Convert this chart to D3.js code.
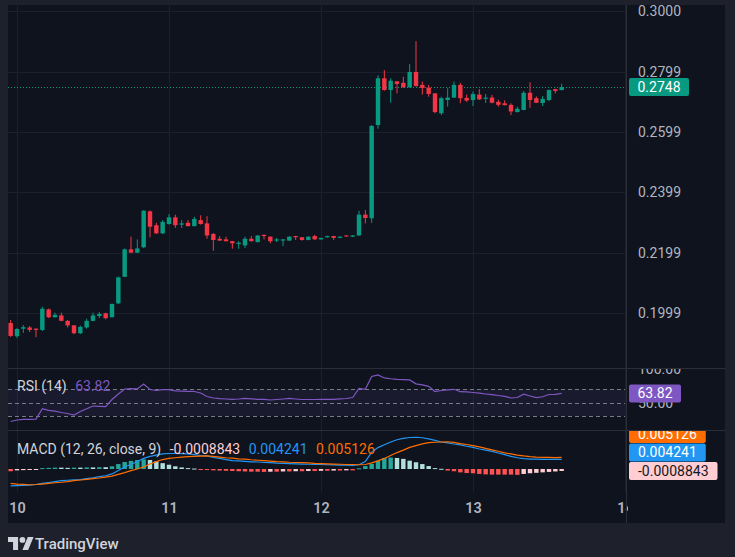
<!DOCTYPE html>
<html>
<head>
<meta charset="utf-8">
<script src="https://cdn.jsdelivr.net/npm/d3@7"></script>
<style>
  html, body { margin: 0; padding: 0; background: #1e212b; }
  svg { display: block; }
  text { font-family: Roboto, "Noto Sans", sans-serif; }
</style>
</head>
<body>
<svg id="chart" width="735" height="557"></svg>
<script>
'use strict';

// hourly candles, the first one is 23:00 of the day before the "10" tick
const firstHour = -1;

const opens = [
    0.1966, 0.1922, 0.1947, 0.1951, 0.1947, 0.1943, 0.2011, 0.1985, 0.1991, 0.1973,
    0.1958, 0.1932, 0.1951, 0.1973, 0.1989, 0.1998, 0.1985, 0.2031, 0.2119, 0.2210,
    0.2199, 0.2217, 0.2336, 0.2290, 0.2263, 0.2294, 0.2316, 0.2292, 0.2298, 0.2287,
    0.2307, 0.2296, 0.2261, 0.2245, 0.2243, 0.2237, 0.2228, 0.2223, 0.2245, 0.2234,
    0.2258, 0.2252, 0.2239, 0.2239, 0.2239, 0.2254, 0.2250, 0.2241, 0.2254, 0.2243,
    0.2250, 0.2254, 0.2248, 0.2256, 0.2252, 0.2256, 0.2325, 0.2313, 0.2622, 0.2777,
    0.2738, 0.2767, 0.2762, 0.2747, 0.2798, 0.2755, 0.2746, 0.2727, 0.2661, 0.2705,
    0.2713, 0.2755, 0.2712, 0.2705, 0.2723, 0.2709, 0.2713, 0.2699, 0.2694, 0.2689,
    0.2665, 0.2672, 0.2729, 0.2711, 0.2695, 0.2705, 0.2741, 0.2738
];
const highs = [
    0.1976, 0.1949, 0.1959, 0.1956, 0.1948, 0.2020, 0.2014, 0.2000, 0.2000, 0.1976,
    0.1959, 0.1957, 0.1980, 0.2000, 0.2002, 0.2000, 0.2030, 0.2120, 0.2213, 0.2252,
    0.2243, 0.2340, 0.2339, 0.2298, 0.2307, 0.2327, 0.2325, 0.2307, 0.2307, 0.2318,
    0.2323, 0.2320, 0.2264, 0.2254, 0.2252, 0.2238, 0.2237, 0.2252, 0.2254, 0.2257,
    0.2259, 0.2253, 0.2248, 0.2244, 0.2253, 0.2255, 0.2251, 0.2253, 0.2258, 0.2248,
    0.2255, 0.2255, 0.2253, 0.2257, 0.2257, 0.2338, 0.2340, 0.2622, 0.2787, 0.2804,
    0.2777, 0.2768, 0.2782, 0.2824, 0.2900, 0.2766, 0.2755, 0.2728, 0.2716, 0.2744,
    0.2766, 0.2762, 0.2723, 0.2733, 0.2741, 0.2725, 0.2722, 0.2706, 0.2704, 0.2694,
    0.2683, 0.2735, 0.2764, 0.2717, 0.2718, 0.2740, 0.2742, 0.2759
];
const lows = [
    0.1919, 0.1916, 0.1933, 0.1936, 0.1919, 0.1939, 0.1982, 0.1984, 0.1972, 0.1951,
    0.1929, 0.1929, 0.1947, 0.1972, 0.1982, 0.1978, 0.1984, 0.2029, 0.2118, 0.2198,
    0.2198, 0.2214, 0.2250, 0.2261, 0.2261, 0.2292, 0.2281, 0.2281, 0.2286, 0.2286,
    0.2292, 0.2245, 0.2205, 0.2238, 0.2236, 0.2212, 0.2212, 0.2214, 0.2236, 0.2233,
    0.2243, 0.2230, 0.2234, 0.2221, 0.2238, 0.2241, 0.2239, 0.2240, 0.2242, 0.2242,
    0.2249, 0.2241, 0.2247, 0.2252, 0.2251, 0.2255, 0.2296, 0.2298, 0.2610, 0.2736,
    0.2696, 0.2727, 0.2746, 0.2746, 0.2750, 0.2723, 0.2716, 0.2661, 0.2655, 0.2683,
    0.2712, 0.2694, 0.2699, 0.2685, 0.2705, 0.2695, 0.2694, 0.2683, 0.2687, 0.2655,
    0.2664, 0.2671, 0.2679, 0.2695, 0.2685, 0.2701, 0.2727, 0.2737
];
const closes = [
    0.1923, 0.1946, 0.1952, 0.1943, 0.1943, 0.2013, 0.1985, 0.1993, 0.1973, 0.1958,
    0.1932, 0.1953, 0.1973, 0.1991, 0.1996, 0.1982, 0.2029, 0.2117, 0.2210, 0.2199,
    0.2213, 0.2338, 0.2285, 0.2263, 0.2301, 0.2316, 0.2290, 0.2296, 0.2287, 0.2311,
    0.2294, 0.2256, 0.2241, 0.2239, 0.2237, 0.2230, 0.2232, 0.2245, 0.2237, 0.2256,
    0.2254, 0.2237, 0.2243, 0.2243, 0.2252, 0.2250, 0.2241, 0.2252, 0.2243, 0.2248,
    0.2254, 0.2248, 0.2252, 0.2253, 0.2256, 0.2325, 0.2314, 0.2619, 0.2777, 0.2738,
    0.2769, 0.2758, 0.2747, 0.2798, 0.2751, 0.2745, 0.2725, 0.2665, 0.2711, 0.2713,
    0.2755, 0.2711, 0.2703, 0.2725, 0.2707, 0.2713, 0.2696, 0.2689, 0.2688, 0.2667,
    0.2676, 0.2729, 0.2705, 0.2696, 0.2709, 0.2738, 0.2735, 0.2748
];

// RSI (14)
const rsiValues = [
    21.7, 24.0, 25.0, 25.0, 25.4, 40.9, 38.5, 37.2, 35.2, 33.7,
    31.5, 36.7, 40.9, 45.0, 44.5, 44.0, 54.7, 63.0, 70.5, 71.0,
    70.5, 78.0, 69.7, 68.2, 69.4, 69.4, 67.7, 67.4, 67.0, 66.7,
    64.5, 59.2, 57.0, 56.0, 55.5, 55.0, 55.5, 56.5, 55.8, 55.0,
    55.0, 54.0, 54.7, 55.5, 56.5, 55.5, 54.7, 54.7, 54.7, 55.0,
    55.0, 55.0, 55.8, 56.2, 57.7, 71.2, 70.0, 89.2, 91.5, 87.0,
    85.8, 85.0, 84.5, 84.0, 78.2, 76.5, 74.5, 66.7, 68.2, 69.2,
    70.0, 66.4, 66.0, 65.2, 64.2, 63.0, 62.0, 60.7, 59.5, 57.0,
    57.7, 62.6, 60.0, 57.5, 58.8, 62.2, 62.5, 63.82
];

// MACD (12, 26, close, 9) in units of 1e-4
const macdValues = [
    -75, -74, -73, -72, -69, -64, -60, -56, -52, -50,
    -48, -47, -43, -39, -34, -30, -22, -7, 9, 20,
    33, 47, 56, 62, 67, 69, 69, 68, 67, 64,
    60, 58, 51, 47, 42, 37, 36, 34, 32, 31,
    29, 28, 26, 25, 24, 23, 22, 21, 20, 20,
    19, 18, 17, 17, 16, 19, 33, 75, 95, 108,
    120, 130, 136, 140, 141, 139, 134, 127, 120, 116,
    111, 107, 101, 96, 89, 84, 78, 71, 64, 56,
    50, 46, 44, 44, 43, 43, 43, 42.41
];
const signalValues = [
    -64, -67, -68, -70, -69, -67, -64, -61, -59, -56,
    -52, -49, -46, -43, -40, -36, -32, -24, -16, -7,
    0, 9, 22, 33, 42, 47, 50, 53, 55, 56,
    57, 58, 56, 53, 50, 48, 45, 44, 41, 39,
    37, 35, 33, 32, 30, 29, 28, 27, 25, 24,
    23, 22, 21, 20, 20, 19, 20, 27, 36, 47,
    60, 73, 84, 96, 104, 112, 117, 119, 120, 121,
    118, 113, 109, 104, 98, 92, 85, 79, 72, 67,
    62, 58, 55, 53, 52, 52, 51, 51.26
];
const histValues = [
    -10, -6, -5, -3, -2, 4, 5, 6, 6, 5,
    6, 6, 7, 7, 8, 8, 12, 22, 31, 36,
    40, 43, 40, 34, 26, 19, 12, 7, 4, 2,
    -2, -4, -6, -7, -8, -9, -10, -11, -12, -12,
    -13, -12, -12, -11, -11, -10, -10, -9, -9, -8,
    -8, -7, -7, -6, -6, 3, 13, 23, 37, 49,
    51, 49, 45, 37, 30, 22, 13, 4, 1, -7,
    -10, -15, -18, -19, -22, -24, -25, -25, -25, -25,
    -26, -22, -19, -17, -15, -13, -11, -8.843
];

const dayLabels = ['10', '11', '12', '13', '14'];
const priceTicks = [0.3000, 0.2799, 0.2599, 0.2399, 0.2199, 0.1999];
const rsiTicks = [100, 50];
const rsiLevels = [70, 50, 30];

// ---- layout and colours ----
const frame = { left: 8, top: 5, plotRight: 625, axisRight: 725, bottom: 523 };
const pane = {
    price: { top: 5, bottom: 368 },
    rsi: { top: 368, bottom: 430 },
    macd: { top: 430, bottom: 492 }
};
const col = {
    outer: '#1e212b',
    inner: '#0f131e',
    grid: '#1b202c',
    border: '#2a2e39',
    text: '#b2b5be',
    legend: '#d1d4dc',
    up: '#089981',
    down: '#f23645',
    rsi: '#7e57c2',
    macd: '#2196f3',
    signal: '#ff6d00',
    growAbove: '#26a69a',
    fallAbove: '#b2dfdb',
    growBelow: '#ffcdd2',
    fallBelow: '#ff5252'
};
const font_size = 14;
const axis_font = 14;

const svg = d3.select('#chart');

// ---- data to records ----
const HOUR = 3600e3;
const t0 = Date.UTC(2024, 0, 10);
const candles = opens.map(function(o, i) {
    return {
        t: new Date(t0 + (firstHour + i) * HOUR),
        o: o, h: highs[i], l: lows[i], c: closes[i],
        rsi: rsiValues[i],
        macd: macdValues[i] * 1e-4,
        signal: signalValues[i] * 1e-4,
        hist: histValues[i] * 1e-4,
        prevHist: i > 0 ? histValues[i - 1] * 1e-4 : null
    };
});
const dayTicks = dayLabels.map(function(d, k) { return new Date(t0 + k * 24 * HOUR); });
const last = candles[candles.length - 1];

// ---- scales ----
const x = d3.scaleUtc().domain([dayTicks[0], dayTicks[4]]).range([17, 625]);
const yPrice = d3.scaleLinear().domain([0.2, 0.3]).range([312.7, 11]);
const yRsi = d3.scaleLinear().domain([30, 70]).range([416, 389.3]);
const yMacd = d3.scaleLinear().domain([0, 0.01]).range([469, 446.5]);
const step = x(candles[1].t) - x(candles[0].t);
const barW = step * 0.7;

// ---- background ----
svg.append('rect').attr('width', 735).attr('height', 557).attr('fill', col.outer);
svg.append('rect')
    .attr('x', frame.left).attr('y', frame.top)
    .attr('width', frame.axisRight - frame.left)
    .attr('height', frame.bottom - frame.top)
    .attr('fill', col.inner);

// clip paths
const defs = svg.append('defs');
function addClip(id, x0, y0, x1, y1) {
    defs.append('clipPath').attr('id', id).append('rect')
        .attr('x', x0).attr('y', y0).attr('width', x1 - x0).attr('height', y1 - y0);
    return 'url(#' + id + ')';
}
const clipPrice = addClip('c-price', frame.left, pane.price.top, frame.plotRight, pane.price.bottom);
const clipRsi = addClip('c-rsi', frame.left, pane.rsi.top, frame.plotRight, pane.rsi.bottom);
const clipMacd = addClip('c-macd', frame.left, pane.macd.top, frame.plotRight, pane.macd.bottom);
const clipRsiAxis = addClip('c-rsi-ax', frame.plotRight, pane.rsi.top + 0.5, frame.axisRight, pane.rsi.bottom);
const clipMacdAxis = addClip('c-macd-ax', frame.plotRight, pane.macd.top + 0.5, frame.axisRight, pane.macd.bottom);
const clipTime = addClip('c-time', frame.left, pane.macd.bottom, frame.plotRight + 3, frame.bottom);

// ---- grid ----
const g_grid = svg.append('g').attr('class', 'grid');
g_grid.selectAll('line.v')
    .data(dayTicks)
    .enter()
    .append('line')
    .attr('class', 'v')
    .attr('x1', function(d) { return Math.round(x(d)) + 0.5; })
    .attr('x2', function(d) { return Math.round(x(d)) + 0.5; })
    .attr('y1', frame.top)
    .attr('y2', pane.macd.bottom)
    .attr('stroke', col.grid);
g_grid.selectAll('line.h')
    .data(priceTicks)
    .enter()
    .append('line')
    .attr('class', 'h')
    .attr('x1', frame.left)
    .attr('x2', frame.plotRight)
    .attr('y1', function(d) { return Math.round(yPrice(d)) + 0.5; })
    .attr('y2', function(d) { return Math.round(yPrice(d)) + 0.5; })
    .attr('stroke', col.grid);

// ---- price pane ----
const g_price = svg.append('g').attr('clip-path', clipPrice);

// last price line
g_price.append('line')
    .attr('x1', frame.left)
    .attr('x2', frame.plotRight + 4)
    .attr('y1', Math.round(yPrice(last.c)) + 0.5)
    .attr('y2', Math.round(yPrice(last.c)) + 0.5)
    .attr('stroke', col.up)
    .attr('stroke-dasharray', '1,2');

const cells = g_price.selectAll('g.candle')
    .data(candles)
    .enter()
    .append('g')
    .attr('class', 'candle')
    .attr('fill', function(d) { return d.c >= d.o ? col.up : col.down; });
cells.append('rect')
    .attr('x', function(d) { return x(d.t) - 0.5; })
    .attr('width', 1)
    .attr('y', function(d) { return yPrice(d.h); })
    .attr('height', function(d) { return yPrice(d.l) - yPrice(d.h); });
cells.append('rect')
    .attr('x', function(d) { return x(d.t) - barW / 2; })
    .attr('width', barW)
    .attr('y', function(d) { return yPrice(Math.max(d.o, d.c)); })
    .attr('height', function(d) {
        return Math.max(1, Math.abs(yPrice(d.o) - yPrice(d.c)));
    });

// price axis
const g_pax = svg.append('g')
    .attr('transform', 'translate(' + frame.plotRight + ',0)')
    .call(d3.axisRight(yPrice).tickValues(priceTicks)
        .tickFormat(d3.format('.4f')).tickSize(0).tickPadding(13));
g_pax.select('.domain').remove();
g_pax.selectAll('text')
    .attr('fill', col.text)
    .attr('font-size', axis_font)
    .attr('font-family', 'Roboto, sans-serif');

// last price label
const g_plabel = svg.append('g')
    .attr('transform', 'translate(' + (frame.plotRight + 4) + ',' + yPrice(last.c) + ')');
g_plabel.append('rect')
    .attr('x', 0).attr('y', -9).attr('width', 60).attr('height', 18)
    .attr('rx', 2)
    .attr('fill', col.up);
g_plabel.append('text')
    .attr('x', 30).attr('y', 0)
    .attr('dy', '0.35em')
    .attr('text-anchor', 'middle')
    .attr('font-size', axis_font)
    .attr('fill', '#ffffff')
    .text(last.c.toFixed(4));

// ---- RSI pane ----
const g_rsi = svg.append('g').attr('clip-path', clipRsi);
g_rsi.append('rect')
    .attr('x', frame.left)
    .attr('width', frame.plotRight - frame.left)
    .attr('y', yRsi(70))
    .attr('height', yRsi(30) - yRsi(70))
    .attr('fill', col.rsi)
    .attr('fill-opacity', 0.1);
g_rsi.selectAll('line.level')
    .data(rsiLevels)
    .enter()
    .append('line')
    .attr('class', 'level')
    .attr('x1', frame.left)
    .attr('x2', frame.plotRight)
    .attr('y1', function(d) { return Math.round(yRsi(d)) + 0.5; })
    .attr('y2', function(d) { return Math.round(yRsi(d)) + 0.5; })
    .attr('stroke', '#787b86')
    .attr('stroke-dasharray', '4,3');
g_rsi.append('path')
    .datum(candles)
    .attr('fill', 'none')
    .attr('stroke', col.rsi)
    .attr('stroke-width', 1.2)
    .attr('d', d3.line()
        .x(function(d) { return x(d.t); })
        .y(function(d) { return yRsi(d.rsi); }));

// RSI axis: the scale values sit behind the current value tag, as on the original
const g_rax = svg.append('g').attr('clip-path', clipRsiAxis);
g_rax.selectAll('text')
    .data(rsiTicks)
    .enter()
    .append('text')
    .attr('x', 638)
    .attr('y', function(d) { return yRsi(d); })
    .attr('dy', '0.35em')
    .attr('font-size', axis_font)
    .attr('fill', col.text)
    .text(function(d) { return d.toFixed(2); });
const g_rlabel = g_rax.append('g')
    .attr('transform', 'translate(' + (frame.plotRight + 4) + ',' + yRsi(last.rsi) + ')');
g_rlabel.append('rect')
    .attr('x', 0).attr('y', -9).attr('width', 52).attr('height', 18)
    .attr('rx', 2)
    .attr('fill', col.rsi);
g_rlabel.append('text')
    .attr('x', 26).attr('dy', '0.35em')
    .attr('text-anchor', 'middle')
    .attr('font-size', axis_font)
    .attr('fill', '#ffffff')
    .text(last.rsi.toFixed(2));

// ---- MACD pane ----
const g_macd = svg.append('g').attr('clip-path', clipMacd);
g_macd.selectAll('rect.hist')
    .data(candles)
    .enter()
    .append('rect')
    .attr('class', 'hist')
    .attr('x', function(d) { return x(d.t) - barW / 2; })
    .attr('width', barW)
    .attr('y', function(d) { return Math.min(yMacd(0), yMacd(d.hist)); })
    .attr('height', function(d) { return Math.max(1, Math.abs(yMacd(d.hist) - yMacd(0))); })
    .attr('fill', function(d) {
        const rising = d.prevHist !== null && d.prevHist < d.hist;
        if (d.hist >= 0) {
            return rising ? col.growAbove : col.fallAbove;
        }
        return rising ? col.growBelow : col.fallBelow;
    });
[['macd', col.macd], ['signal', col.signal]].forEach(function(s) {
    g_macd.append('path')
        .datum(candles)
        .attr('fill', 'none')
        .attr('stroke', s[1])
        .attr('stroke-width', 1.2)
        .attr('d', d3.line()
            .x(function(d) { return x(d.t); })
            .y(function(d) { return yMacd(d[s[0]]); }));
});

// MACD axis labels, stacked from the bottom so they do not overlap
const macdLabels = [
    { v: last.hist, fill: col.growBelow, color: '#131722', text: (last.hist).toFixed(7) },
    { v: last.macd, fill: col.macd, color: '#ffffff', text: last.macd.toFixed(6) },
    { v: last.signal, fill: col.signal, color: '#ffffff', text: last.signal.toFixed(6) }
];
const label_h = 18.5;
let prev_y = Infinity;
macdLabels.forEach(function(d) {
    d.y = Math.min(yMacd(d.v), prev_y - label_h);
    prev_y = d.y;
});
const g_max = svg.append('g').attr('clip-path', clipMacdAxis);
const mcells = g_max.selectAll('g.mlabel')
    .data(macdLabels)
    .enter()
    .append('g')
    .attr('class', 'mlabel')
    .attr('transform', function(d) { return 'translate(' + (frame.plotRight + 4) + ',' + d.y + ')'; });
mcells.append('text')
    .attr('x', 9)
    .attr('dy', '0.35em')
    .attr('font-size', axis_font)
    .attr('fill', function(d) { return d.color; })
    .text(function(d) { return d.text; });
mcells.each(function(d) {
    const w = d3.select(this).select('text').node().getComputedTextLength() + 18;
    d3.select(this).insert('rect', 'text')
        .attr('x', 0).attr('y', -9).attr('width', w).attr('height', 18)
        .attr('rx', 2)
        .attr('fill', d.fill);
});

// ---- legends ----
function legend(y, items) {
    let cx = 17;
    items.forEach(function(it) {
        const t = svg.append('text')
            .attr('x', cx)
            .attr('y', y)
            .attr('dy', '0.35em')
            .attr('font-size', font_size)
            .attr('fill', it[1])
            .text(it[0]);
        cx += t.node().getComputedTextLength() + 8.5;
    });
}
legend(386, [['RSI (14)', col.legend], [last.rsi.toFixed(2), col.rsi]]);
legend(449.5, [
    ['MACD (12, 26, close, 9)', col.legend],
    [last.hist.toFixed(7), col.growBelow],
    [last.macd.toFixed(6), col.macd],
    [last.signal.toFixed(6), col.signal]
]);

// ---- time axis ----
const g_tax = svg.append('g')
    .attr('clip-path', clipTime)
    .append('g')
    .attr('transform', 'translate(0,' + pane.macd.bottom + ')')
    .call(d3.axisBottom(x).tickValues(dayTicks)
        .tickFormat(function(d, i) { return dayLabels[i]; })
        .tickSize(0).tickPadding(11));
g_tax.select('.domain').remove();
g_tax.selectAll('text')
    .attr('fill', col.text)
    .attr('font-size', 14.5)
    .attr('font-weight', 600)
    .attr('font-family', 'Roboto, sans-serif');

// ---- pane borders ----
const g_border = svg.append('g').attr('stroke', col.border);
[pane.rsi.top, pane.macd.top].forEach(function(yy) {
    g_border.append('line')
        .attr('x1', frame.left).attr('x2', frame.axisRight)
        .attr('y1', yy + 0.5).attr('y2', yy + 0.5);
});
g_border.append('line')
    .attr('x1', frame.plotRight + 1.5).attr('x2', frame.plotRight + 1.5)
    .attr('y1', frame.top).attr('y2', frame.bottom);

// ---- TradingView mark ----
const g_logo = svg.append('g')
    .attr('transform', 'translate(8,534.2) scale(0.72)')
    .attr('fill', '#d1d4dc');
g_logo.append('path').attr('d', 'M14 22H7V11H0V4h14v18zM28 22h-8l7.5-18h8L28 22z');
g_logo.append('circle').attr('cx', 20).attr('cy', 8).attr('r', 4);
svg.append('text')
    .attr('x', 35)
    .attr('y', 549)
    .attr('font-size', 15)
    .attr('font-weight', 500)
    .attr('fill', '#d1d4dc')
    .text('TradingView');
</script>
</body>
</html>
